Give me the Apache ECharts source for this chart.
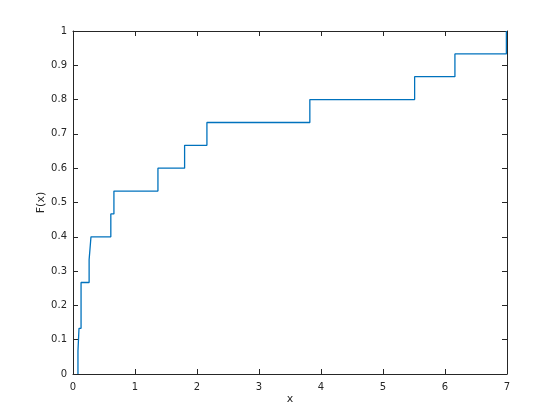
<!DOCTYPE html>
<html><head><meta charset="utf-8">
<script src="https://cdn.jsdelivr.net/npm/echarts@6/dist/echarts.min.js"></script>
<style>html,body{margin:0;padding:0;background:#fff}#c{width:560px;height:420px}</style>
</head><body><div id="c"></div>
<script>
// ECDF jump locations and F(x) after each jump
const jumpX = [0.08, 0.097, 0.13, 0.26, 0.29, 0.61, 0.66, 1.37, 1.80, 2.16, 3.82, 5.51, 6.16, 6.99];
const jumpF = [0.0667, 0.1333, 0.2667, 0.3333, 0.4, 0.4667, 0.5333, 0.6, 0.6667, 0.7333, 0.8, 0.8667, 0.9333, 1.0];
const xTicks = [0, 1, 2, 3, 4, 5, 6, 7];
const yTicks = [0, 0.1, 0.2, 0.3, 0.4, 0.5, 0.6, 0.7, 0.8, 0.9, 1];
const xLabel = 'x';
const yLabel = 'F(x)';

const data = [[jumpX[0], 0]];
for (let i = 0; i < jumpX.length; i++) data.push([jumpX[i], jumpF[i]]);

const axisColor = '#262626';
const font = 'DejaVu Sans';
const chart = echarts.init(document.getElementById('c'), null, {renderer: 'canvas'});
const lineStyle = {color: axisColor, width: 1};
chart.setOption({
  animation: false,
  backgroundColor: '#fff',
  grid: {left: 73, right: 53, top: 31, bottom: 46, containLabel: false},
  xAxis: [{
    type: 'value', min: xTicks[0], max: xTicks[xTicks.length - 1], interval: 1,
    position: 'bottom',
    axisLine: {show: true, onZero: false, lineStyle},
    axisTick: {show: true, inside: true, length: 5, lineStyle},
    axisLabel: {color: axisColor, fontFamily: font, fontSize: 10, margin: 8},
    splitLine: {show: false},
    name: xLabel, nameLocation: 'middle', nameGap: 20, nameMoveOverlap: false,
    nameTextStyle: {color: axisColor, fontFamily: font, fontSize: 11}
  }, {
    type: 'value', min: xTicks[0], max: xTicks[xTicks.length - 1], interval: 1,
    position: 'top',
    axisLine: {show: true, onZero: false, lineStyle},
    axisTick: {show: true, inside: true, length: 5, lineStyle},
    axisLabel: {show: false}, splitLine: {show: false}
  }],
  yAxis: [{
    type: 'value', min: yTicks[0], max: yTicks[yTicks.length - 1], interval: 0.1,
    position: 'left',
    axisLine: {show: true, onZero: false, lineStyle},
    axisTick: {show: true, inside: true, length: 5, lineStyle},
    axisLabel: {color: axisColor, fontFamily: font, fontSize: 10, margin: 6,
      formatter: v => String(Math.round(v * 10) / 10)},
    splitLine: {show: false},
    name: yLabel, nameLocation: 'middle', nameGap: 26, nameRotate: 90, nameMoveOverlap: false,
    nameTextStyle: {color: axisColor, fontFamily: font, fontSize: 11}
  }, {
    type: 'value', min: yTicks[0], max: yTicks[yTicks.length - 1], interval: 0.1,
    position: 'right',
    axisLine: {show: true, onZero: false, lineStyle},
    axisTick: {show: true, inside: true, length: 5, lineStyle},
    axisLabel: {show: false}, splitLine: {show: false}
  }],
  series: [{
    type: 'line', step: 'end', data: data, xAxisIndex: 0, yAxisIndex: 0,
    showSymbol: false, symbol: 'none',
    lineStyle: {color: '#0072BD', width: 1.3},
    clip: true
  }]
});
</script></body></html>
